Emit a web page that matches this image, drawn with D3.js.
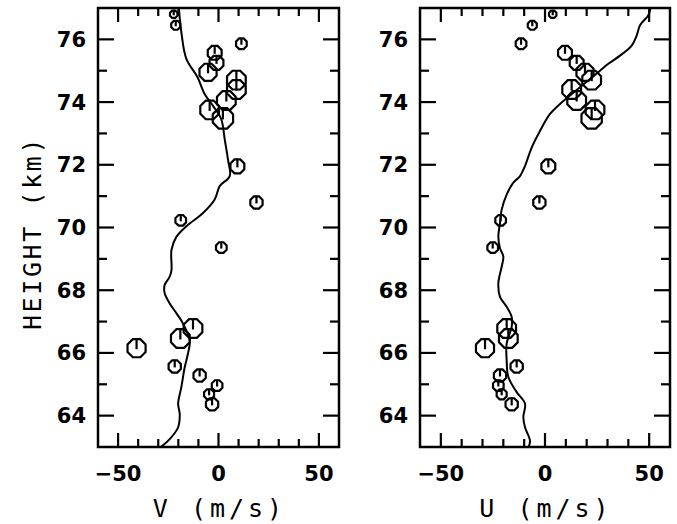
<!DOCTYPE html>
<html>
<head>
<meta charset="utf-8">
<script src="https://cdn.jsdelivr.net/npm/d3@7/dist/d3.min.js"></script>
<style>
html,body{margin:0;padding:0;background:#fff;}
svg{display:block;}
</style>
</head>
<body>
<svg id="chart" width="677" height="524"></svg>
<script>
// ---------- DATA ----------
const heightTicks = [64, 66, 68, 70, 72, 74, 76];
const windTicks = [-50, 0, 50];
const axisTitleY = "HEIGHT (km)";
const panelTitles = ["V (m/s)", "U (m/s)"];

// measurement heights (km), shared by both panels
const pointHeights = [76.8, 76.45, 75.86, 75.57, 75.25, 74.95, 74.7, 74.4, 74.05, 73.75, 73.48,
  71.95, 70.8, 70.23, 69.36, 66.78, 66.46, 66.15, 65.57, 65.28, 64.96, 64.68, 64.36];
const vPoints = [-22.3, -21.3, 11.4, -1.9, -1.0, -5.2, 8.9, 8.9, 3.9, -4.4, 2.2,
  9.4, 18.9, -18.8, 1.4, -12.7, -19.0, -40.8, -21.8, -9.4, -0.7, -4.7, -3.2];
const uPoints = [3.7, -6.1, -11.5, 9.6, 15.2, 19.2, 22.4, 12.8, 15.2, 24.0, 22.4,
  1.6, -2.7, -21.3, -25.1, -18.4, -17.6, -28.8, -13.6, -21.6, -22.4, -20.8, -16.0];
const pointWeight = [1, 1.5, 2, 3, 3, 4, 4.5, 4.5, 4.5, 4.5, 5,
  3, 2.5, 2, 2, 4.5, 4.5, 4.3, 2.5, 2.5, 2, 1.8, 2.5];

// mean profiles
const vLineH = [76.98, 76.23, 75.38, 74.8, 74.26, 73.88, 73.45, 72.81, 72.17, 71.64, 71.32, 70.89,
  70.46, 70.04, 69.71, 69.29, 68.65, 68.43, 68.17, 67.9, 67.58, 67.26, 66.94, 66.4, 65.98, 65.55,
  64.91, 64.38, 64.05, 63.63, 63.25, 62.97];
const vLineV = [-19.7, -18.5, -16.0, -10.5, -6.9, -2.7, 1.4, 3.1, 4.7, 5.6, 0.6, -1.9,
  -7.7, -16.0, -20.9, -23.4, -23.4, -24.3, -26.8, -26.8, -24.3, -20.9, -17.7, -14.3, -15.2, -16.8,
  -18.5, -20.1, -19.3, -20.1, -24.3, -29.3];
const uLineH = [77.0, 76.77, 76.45, 76.12, 75.8, 75.48, 75.22, 75.0, 74.47, 73.94, 73.62, 73.08,
  72.55, 71.96, 71.64, 71.43, 71.05, 70.57, 70.14, 69.71, 69.34, 69.07, 68.75, 68.22, 67.79, 67.47,
  67.15, 66.83, 66.3, 65.76, 65.23, 64.75, 64.38, 63.95, 63.63, 63.2, 62.98];
const uLineU = [50.6, 49.6, 45.6, 44.0, 41.6, 36.0, 30.4, 26.4, 16.8, 7.2, 2.4, -2.4,
  -6.4, -9.6, -12.0, -15.2, -18.4, -20.8, -21.6, -22.4, -21.6, -20.0, -20.8, -22.4, -21.6, -18.4,
  -16.0, -16.0, -18.4, -18.4, -17.6, -13.6, -9.6, -10.4, -9.6, -7.2, -8.0];

// ---------- DRAW ----------
const svg = d3.select("#chart");
const plotTop = 8, plotBottom = 447;
const y = d3.scaleLinear().domain([63, 77]).range([plotBottom, plotTop]);
const rScale = d3.scaleLinear().domain([1, 5]).range([4, 11]);

const panels = [
  {x0: 98, x1: 339, pts: vPoints, lh: vLineH, lv: vLineV, title: panelTitles[0]},
  {x0: 420, x1: 670, pts: uPoints, lh: uLineH, lv: uLineU, title: panelTitles[1]}
];

const tickFont = "'DejaVu Sans', sans-serif";
const titleFont = "'DejaVu Sans Mono', monospace";

function octagon(cx, cy, r) {
  const pts = d3.range(8).map(i => {
    const a = Math.PI / 8 + i * Math.PI / 4;
    return [cx + r * Math.cos(a), cy + r * Math.sin(a)];
  });
  return "M" + pts.map(p => p.join(",")).join("L") + "Z";
}

panels.forEach((p, pi) => {
  const x = d3.scaleLinear().domain([-60, 60]).range([p.x0, p.x1]);
  const g = svg.append("g");
  const clipId = "clip" + pi;
  svg.append("clipPath").attr("id", clipId).append("rect")
    .attr("x", p.x0).attr("y", plotTop).attr("width", p.x1 - p.x0).attr("height", plotBottom - plotTop);

  const xt = d3.range(-50, 51, 10);
  xt.forEach(v => {
    const len = (v % 50 === 0) ? 14 : 8;
    g.append("line").attr("x1", x(v)).attr("x2", x(v)).attr("y1", plotBottom).attr("y2", plotBottom - len)
      .attr("stroke", "#000").attr("stroke-width", 2.2);
    g.append("line").attr("x1", x(v)).attr("x2", x(v)).attr("y1", plotTop).attr("y2", plotTop + len)
      .attr("stroke", "#000").attr("stroke-width", 2.2);
  });
  const yt = d3.range(64, 77, 1);
  yt.forEach(h => {
    const len = (h % 2 === 0) ? 16 : 9;
    g.append("line").attr("x1", p.x0).attr("x2", p.x0 + len).attr("y1", y(h)).attr("y2", y(h))
      .attr("stroke", "#000").attr("stroke-width", 2.2);
    g.append("line").attr("x1", p.x1).attr("x2", p.x1 - len).attr("y1", y(h)).attr("y2", y(h))
      .attr("stroke", "#000").attr("stroke-width", 2.2);
  });

  g.append("rect").attr("x", p.x0).attr("y", plotTop).attr("width", p.x1 - p.x0).attr("height", plotBottom - plotTop)
    .attr("fill", "none").attr("stroke", "#000").attr("stroke-width", 2.5);

  heightTicks.forEach(h => {
    g.append("text").attr("x", p.x0 - 12).attr("y", y(h)).attr("dy", "0.36em")
      .attr("text-anchor", "end").attr("font-family", tickFont).attr("font-weight", "bold")
      .attr("font-size", 21).text(h);
  });
  windTicks.forEach(v => {
    g.append("text").attr("x", x(v)).attr("y", 481)
      .attr("text-anchor", "middle").attr("font-family", tickFont).attr("font-weight", "bold")
      .attr("font-size", 21).text(v < 0 ? "\u2212" + Math.abs(v) : v);
  });
  g.append("text").attr("x", x(0) + 1).attr("y", 517)
    .attr("text-anchor", "middle").attr("font-family", titleFont)
    .attr("font-size", 25).attr("letter-spacing", 4).text(p.title);

  const lineData = p.lh.map((h, i) => [p.lv[i], h]);
  g.append("path").datum(lineData)
    .attr("clip-path", `url(#${clipId})`)
    .attr("d", d3.line().x(d => x(d[0])).y(d => y(d[1])).curve(d3.curveCatmullRom))
    .attr("fill", "none").attr("stroke", "#000").attr("stroke-width", 2);

  pointHeights.forEach((h, i) => {
    const cx = x(p.pts[i]), cy = y(h), r = rScale(pointWeight[i]);
    g.append("path").attr("d", octagon(cx, cy, r))
      .attr("fill", "none").attr("stroke", "#000").attr("stroke-width", 2.2);
    g.append("line").attr("x1", cx).attr("x2", cx).attr("y1", cy - r).attr("y2", cy + 1)
      .attr("stroke", "#000").attr("stroke-width", 2.2);
  });
});

svg.append("text")
  .attr("transform", "translate(41,233) rotate(-90)")
  .attr("text-anchor", "middle").attr("font-family", titleFont)
  .attr("font-size", 25).attr("letter-spacing", 2.6).text(axisTitleY);
</script>
</body>
</html>
